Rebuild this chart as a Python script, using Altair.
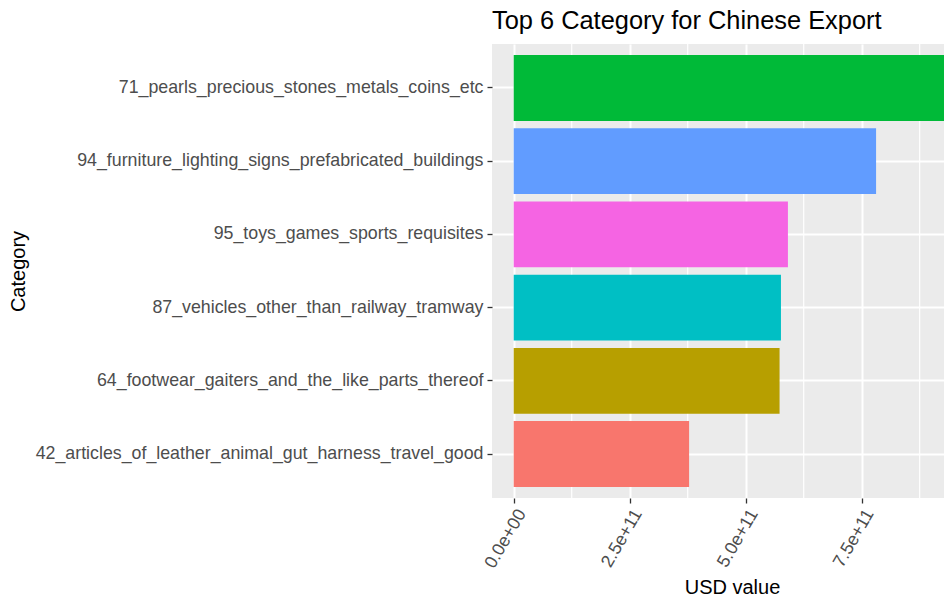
import altair as alt
import pandas as pd

categories = [
    "71_pearls_precious_stones_metals_coins_etc",
    "94_furniture_lighting_signs_prefabricated_buildings",
    "95_toys_games_sports_requisites",
    "87_vehicles_other_than_railway_tramway",
    "64_footwear_gaiters_and_the_like_parts_thereof",
    "42_articles_of_leather_animal_gut_harness_travel_good",
]
usd_values = [9.6e11, 7.81e11, 5.91e11, 5.76e11, 5.73e11, 3.78e11]
bar_colors = ["#00BA38", "#619CFF", "#F564E3", "#00BFC4", "#B79F00", "#F8766D"]
major_ticks = [0, 2.5e11, 5.0e11, 7.5e11]
tick_labels = ["0.0e+00", "2.5e+11", "5.0e+11", "7.5e+11"]
minor_ticks = [1.25e11, 3.75e11, 6.25e11, 8.75e11]
x_domain = [-4.68e10, 9.274e11]

FONT = "Liberation Sans"

df = pd.DataFrame({"category": categories, "value": usd_values})
minor_df = pd.DataFrame({"v": minor_ticks})

label_expr = "".join(
    f"datum.value == {v:.0f} ? '{l}' : " for v, l in zip(major_ticks, tick_labels)
) + "''"

xscale = alt.Scale(domain=x_domain, nice=False, zero=False)

x_axis = alt.Axis(
    values=major_ticks,
    labelExpr=label_expr,
    labelAngle=300,
    labelAlign="right",
    labelBaseline="top",
    labelFlush=False,
    labelOverlap=False,
    labelFontSize=17.8,
    labelColor="#4D4D4D",
    labelPadding=3,
    tickColor="#333333",
    tickSize=5,
    tickWidth=1.3,
    domain=False,
    grid=True,
    gridColor="white",
    gridWidth=2,
    title="USD value",
    titleFontSize=20,
    titleColor="black",
    titleFontWeight="normal",
    titleX=240,
    titleY=95,
    titleAlign="center",
    titleBaseline="alphabetic",
)

minor = alt.Chart(minor_df).mark_rule(color="white", strokeWidth=1.2).encode(
    x=alt.X("v:Q", scale=xscale, axis=x_axis, title="USD value")
)

bars = alt.Chart(df).mark_bar(clip=True).encode(
    x=alt.X("value:Q", scale=xscale, axis=x_axis, title="USD value"),
    y=alt.Y(
        "category:N",
        scale=alt.Scale(domain=categories, paddingInner=0.1, paddingOuter=0.15),
        axis=alt.Axis(
            title="Category",
            titleAngle=270,
            titleX=-468,
            titleY=227,
            titleAlign="center",
            titleBaseline="alphabetic",
            titleFontSize=20,
            titleColor="black",
            titleFontWeight="normal",
            labelFontSize=17.8,
            labelColor="#4D4D4D",
            labelPadding=4,
            labelLimit=1000,
            tickColor="#333333",
            tickSize=5,
            tickWidth=1.3,
            domain=False,
            grid=True,
            gridColor="white",
            gridWidth=2,
        ),
    ),
    color=alt.Color(
        "category:N",
        scale=alt.Scale(domain=categories, range=bar_colors),
        legend=None,
    ),
)

chart = (
    alt.layer(minor, bars)
    .properties(
        width=452,
        height=454,
        title=alt.TitleParams(
            text="Top 6 Category for Chinese Export",
            anchor="start",
            frame="group",
            fontSize=25.4,
            font=FONT,
            fontWeight="normal",
            color="black",
            offset=-11,
            baseline="alphabetic",
        ),
        autosize=alt.AutoSizeParams(type="none"),
        padding={"left": 484, "top": 36, "right": 0, "bottom": 98},
        background="white",
    )
    .configure_view(fill="#EBEBEB", stroke=None)
    .configure_axis(labelFont=FONT, titleFont=FONT)
)

chart.save("out.html", embed_options={"renderer": "svg", "actions": False})
